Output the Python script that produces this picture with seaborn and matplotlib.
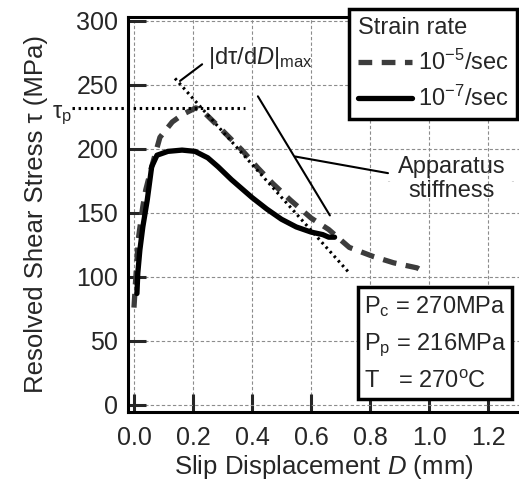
import matplotlib
matplotlib.use("Agg")
import matplotlib.pyplot as plt
from matplotlib.patches import Arc
import pandas as pd
import seaborn as sns

# slip displacement (mm) vs resolved shear stress (MPa)
fast_x = [0.0, 0.005, 0.015, 0.03, 0.04, 0.06, 0.088, 0.13, 0.166, 0.21, 0.235,
          0.275, 0.31, 0.366, 0.42, 0.47, 0.53, 0.6, 0.66, 0.73, 0.81, 0.88, 0.96, 0.975]
fast_y = [76, 95, 130, 155, 168, 186, 209, 221, 227, 232, 229,
          220, 212, 199, 185, 173, 160, 146, 137, 123, 116, 111, 107, 105]
slow_x = [0.01, 0.013, 0.02, 0.03, 0.045, 0.06, 0.078, 0.115, 0.163, 0.207, 0.25,
          0.285, 0.33, 0.40, 0.45, 0.50, 0.55, 0.60, 0.64, 0.66, 0.68]
slow_y = [87, 103, 121, 139, 160, 186, 195, 198, 199, 198, 193,
          186, 176, 162, 153, 145, 139, 135, 133, 131, 131]
rate_labels = ["10$^{-5}$/sec", "10$^{-7}$/sec"]

tau_p = 232
slope_x = [0.139, 0.73]
slope_y = [255, 103]
stiff_x = [0.42, 0.664]
stiff_y = [241, 148]

fast = pd.DataFrame({"D": fast_x, "tau": fast_y})
slow = pd.DataFrame({"D": slow_x, "tau": slow_y})

sns.set_style("ticks")
plt.rcParams["font.family"] = ["Liberation Sans", "DejaVu Sans"]
plt.rcParams["mathtext.fontset"] = "custom"
plt.rcParams["mathtext.rm"] = "Liberation Sans"
plt.rcParams["mathtext.it"] = "Liberation Sans:italic"
plt.rcParams["font.size"] = 18

fig = plt.figure(figsize=(5.19, 4.83), dpi=100)
ax = fig.add_axes([0.2466, 0.147, 0.7534, 0.818])

sns.lineplot(data=fast, x="D", y="tau", sort=False, ax=ax, color="#3c3c3c",
             lw=3.8, linestyle=(0, (2.6, 1.8)), label=rate_labels[0])
sns.lineplot(data=slow, x="D", y="tau", sort=False, ax=ax, color="black",
             lw=3.8, label=rate_labels[1])

# max slope and apparatus stiffness lines
ax.plot(slope_x, slope_y, color="black", lw=2.2, linestyle=(0, (0.8, 1.2)))
ax.plot(stiff_x, stiff_y, color="black", lw=1.5)
ax.plot([-0.21, 0.376], [tau_p, tau_p], color="black", lw=2.2,
        linestyle=(0, (0.8, 1.2)), clip_on=False)
ax.text(-0.21, 226, r"τ$_{\rm p}$", ha="right", va="center", fontsize=17,
        clip_on=False)

ax.plot([0.156, 0.231], [253, 266], color="black", lw=1.5)
ax.text(0.25, 261, r"|dτ/d$D$|$_{\rm max}$", ha="left", va="bottom", fontsize=17)

ax.plot([0.546, 0.861], [194, 181], color="black", lw=1.5)
ax.text(1.078, 176.5, "Apparatus\nstiffness", ha="center", va="center",
        fontsize=17, linespacing=1.15)
ax.add_patch(Arc((0.922, 174.2), 0.115, 76, theta1=133, theta2=227,
                 color="black", lw=1.5))
ax.add_patch(Arc((1.227, 174.2), 0.115, 76, theta1=-47, theta2=47,
                 color="black", lw=1.5))

ax.text(0.778, 9, "P$_{\\rm c}$ = 270MPa\nP$_{\\rm p}$ = 216MPa\nT   = 270$^{\\rm o}$C",
        ha="left", va="bottom", fontsize=17, linespacing=1.7,
        bbox=dict(boxstyle="square,pad=0.25", fc="white", ec="black", lw=2.5))

ax.set_xlim(-0.0203, 1.305)
ax.set_ylim(-5.5, 303)
ax.set_xticks([0.0, 0.2, 0.4, 0.6, 0.8, 1.0, 1.2])
ax.set_xticklabels(["0.0", "0.2", "0.4", "0.6", "0.8", "1.0", "1.2"])
ax.set_yticks([0, 50, 100, 150, 200, 250, 300])
ax.grid(True, color="#8c8c8c", linestyle=(0, (3, 2)), lw=0.8)
ax.set_axisbelow(True)
ax.tick_params(direction="in", length=13, width=2.2, labelsize=18, pad=7,
               top=False, right=False)
ax.tick_params(axis="x", pad=10)
for side in ["left", "bottom", "top"]:
    ax.spines[side].set_linewidth(2.2)
    ax.spines[side].set_color("black")
ax.spines["right"].set_visible(False)

ax.set_xlabel("Slip Displacement $D$ (mm)", fontsize=18.5, labelpad=2)
ax.set_ylabel("Resolved Shear Stress τ (MPa)", fontsize=18.5, labelpad=20)

leg = ax.legend(title="Strain rate", loc="upper right",
                bbox_to_anchor=(0.996, 0.981), bbox_transform=fig.transFigure,
                fontsize=17, title_fontsize=17, fancybox=False, framealpha=1,
                edgecolor="black", handlelength=2.3, borderpad=0.35,
                labelspacing=0.45, handletextpad=0.25, borderaxespad=0)
leg._legend_box.align = "left"
leg.get_frame().set_linewidth(2.5)
leg.set_zorder(10)

fig.savefig("out.png", dpi=100)
